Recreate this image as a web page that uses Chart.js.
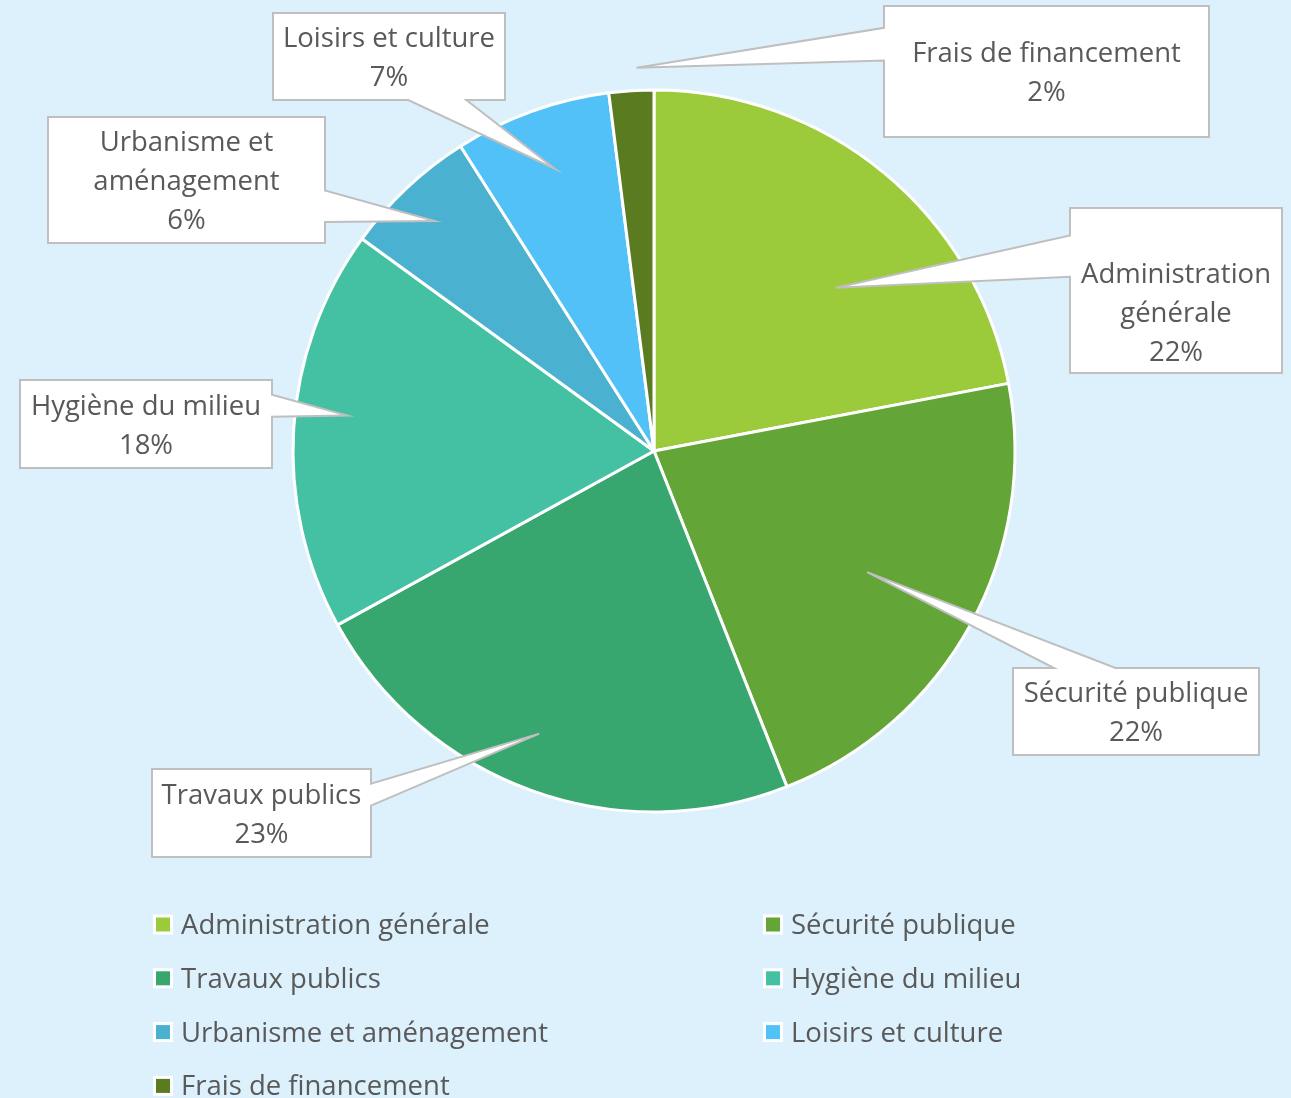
<!DOCTYPE html>
<html><head><meta charset="utf-8">
<script src="https://cdn.jsdelivr.net/npm/chart.js@4.4.1/dist/chart.umd.min.js"></script>
<style>
html,body{margin:0;padding:0;background:#DCF1FB;}
#wrap{width:1291px;height:1098px;position:relative;overflow:hidden;}
canvas{display:block;}
</style></head><body>
<div id="wrap"><canvas id="c" width="1291" height="1098"></canvas></div>
<script>
// ---- data ----
const categories = ['Administration générale','Sécurité publique','Travaux publics','Hygiène du milieu','Urbanisme et aménagement','Loisirs et culture','Frais de financement'];
const shares = [22, 22, 23, 18, 6, 7, 2];
const sliceColors = ['#9BCB3B','#63A537','#37A76F','#44C1A3','#4BB1D0','#52C1F7','#5B7B21'];

// ---- callout layout (boxes: left, top, width, height) ----
const calloutBoxes = [
  [1070,208,212,165],
  [1013,668,246,87],
  [152,769,219,88],
  [20,380,252,88],
  [48,117,277,126],
  [273,13,232,87],
  [884,6,325,131]
];
// pointer tip: [angle offset (deg) from slice middle, fraction of radius]
const calloutTips = [[8.5,0.677],[0.8,0.679],[2.3,0.845],[3.0,0.855],[-0.4,0.88],[0.5,0.828],[1.0,1.063]];
const calloutTextShift = [21,0,0,0,0,0,0];

const FONT_SIZE = 27.5;
const FONT = FONT_SIZE + 'px "Open Sans"';
const TEXT_COLOR = '#595959';
const LINE_H = 39;

function wrapText(ctx, text, maxW){
  const words = text.split(' ');
  const lines = [];
  let cur = '';
  words.forEach(w=>{
    const t = cur ? cur + ' ' + w : w;
    if (cur && ctx.measureText(t).width > maxW){ lines.push(cur); cur = w; }
    else cur = t;
  });
  if (cur) lines.push(cur);
  return lines;
}

const calloutPlugin = {
  id:'callouts',
  afterDatasetsDraw(chart){
    const ctx = chart.ctx;
    const meta = chart.getDatasetMeta(0);
    const total = shares.reduce((a,b)=>a+b,0);
    ctx.save();
    ctx.font = FONT;
    meta.data.forEach((arc,i)=>{
      const p = arc.getProps(['x','y','startAngle','endAngle','outerRadius'], true);
      const ang = (p.startAngle+p.endAngle)/2 + calloutTips[i][0]*Math.PI/180;
      const rr = p.outerRadius*calloutTips[i][1];
      const tx = p.x + Math.cos(ang)*rr, ty = p.y + Math.sin(ang)*rr;
      const [bx,by,bw,bh] = calloutBoxes[i];
      const hc = bx+bw/2, vc = by+bh/2;
      const dx = tx-hc, dy = ty-vc;
      const dq = dx*bh/bw;
      const dz = Math.abs(dy)-Math.abs(dq);
      const xg1 = dx>0?7:2, xg2 = dx>0?10:5;
      const yg1 = dy>0?7:2, yg2 = dy>0?10:5;
      const x1 = bx+bw*xg1/12, x2 = bx+bw*xg2/12, y1 = by+bh*yg1/12, y2 = by+bh*yg2/12;
      const l=bx, t=by, r=bx+bw, b=by+bh;
      ctx.beginPath();
      ctx.moveTo(l,t);
      if (dz>0 && dy<0){ ctx.lineTo(x1,t); ctx.lineTo(tx,ty); ctx.lineTo(x2,t); }
      ctx.lineTo(r,t);
      if (dz<=0 && dx>0){ ctx.lineTo(r,y1); ctx.lineTo(tx,ty); ctx.lineTo(r,y2); }
      ctx.lineTo(r,b);
      if (dz>0 && dy>0){ ctx.lineTo(x2,b); ctx.lineTo(tx,ty); ctx.lineTo(x1,b); }
      ctx.lineTo(l,b);
      if (dz<=0 && dx<0){ ctx.lineTo(l,y2); ctx.lineTo(tx,ty); ctx.lineTo(l,y1); }
      ctx.closePath();
      ctx.fillStyle = '#FFFFFF';
      ctx.fill();
      ctx.lineWidth = 2;
      ctx.lineJoin = 'miter';
      ctx.strokeStyle = '#BFBFBF';
      ctx.stroke();
      // text
      const pct = Math.round(shares[i]/total*100) + '%';
      const lines = wrapText(ctx, categories[i], bw-6).concat([pct]);
      const n = lines.length;
      const cy = vc + calloutTextShift[i];
      ctx.fillStyle = TEXT_COLOR;
      ctx.textAlign = 'center';
      ctx.textBaseline = 'alphabetic';
      lines.forEach((ln,k)=>{
        const base = cy + (k-(n-1)/2)*LINE_H + 0.38*FONT_SIZE;
        ctx.fillText(ln, hc, base);
      });
    });
    ctx.restore();
  }
};

// legend: two columns, row-major
const legendCols = [153, 763];
const legendFirstBaseline = 934;
const legendRowGap = 53.8;
const legendPlugin = {
  id:'gridLegend',
  afterDraw(chart){
    const ctx = chart.ctx;
    const colors = chart.data.datasets[0].backgroundColor;
    ctx.save();
    ctx.font = FONT;
    ctx.textAlign = 'left';
    ctx.textBaseline = 'alphabetic';
    chart.data.labels.forEach((lab,i)=>{
      const col = i%2, row = Math.floor(i/2);
      const x = legendCols[col];
      const base = legendFirstBaseline + row*legendRowGap;
      const top = base - 19.5;
      ctx.fillStyle = '#FFFFFF';
      ctx.fillRect(x, top, 20, 20);
      ctx.fillStyle = colors[i];
      ctx.fillRect(x+3, top+3, 14, 14);
      ctx.fillStyle = TEXT_COLOR;
      ctx.fillText(lab, x+28, base);
    });
    ctx.restore();
  }
};

new Chart(document.getElementById('c'), {
  type:'pie',
  data:{
    labels: categories,
    datasets:[{
      data: shares,
      backgroundColor: sliceColors,
      borderColor:'#FFFFFF',
      borderWidth:3,
      radius:361
    }]
  },
  options:{
    responsive:false,
    animation:false,
    devicePixelRatio:1,
    layout:{padding:{left:17,right:0,top:0,bottom:196}},
    plugins:{legend:{display:false}, tooltip:{enabled:false}}
  },
  plugins:[calloutPlugin, legendPlugin]
});
</script>
</body></html>
